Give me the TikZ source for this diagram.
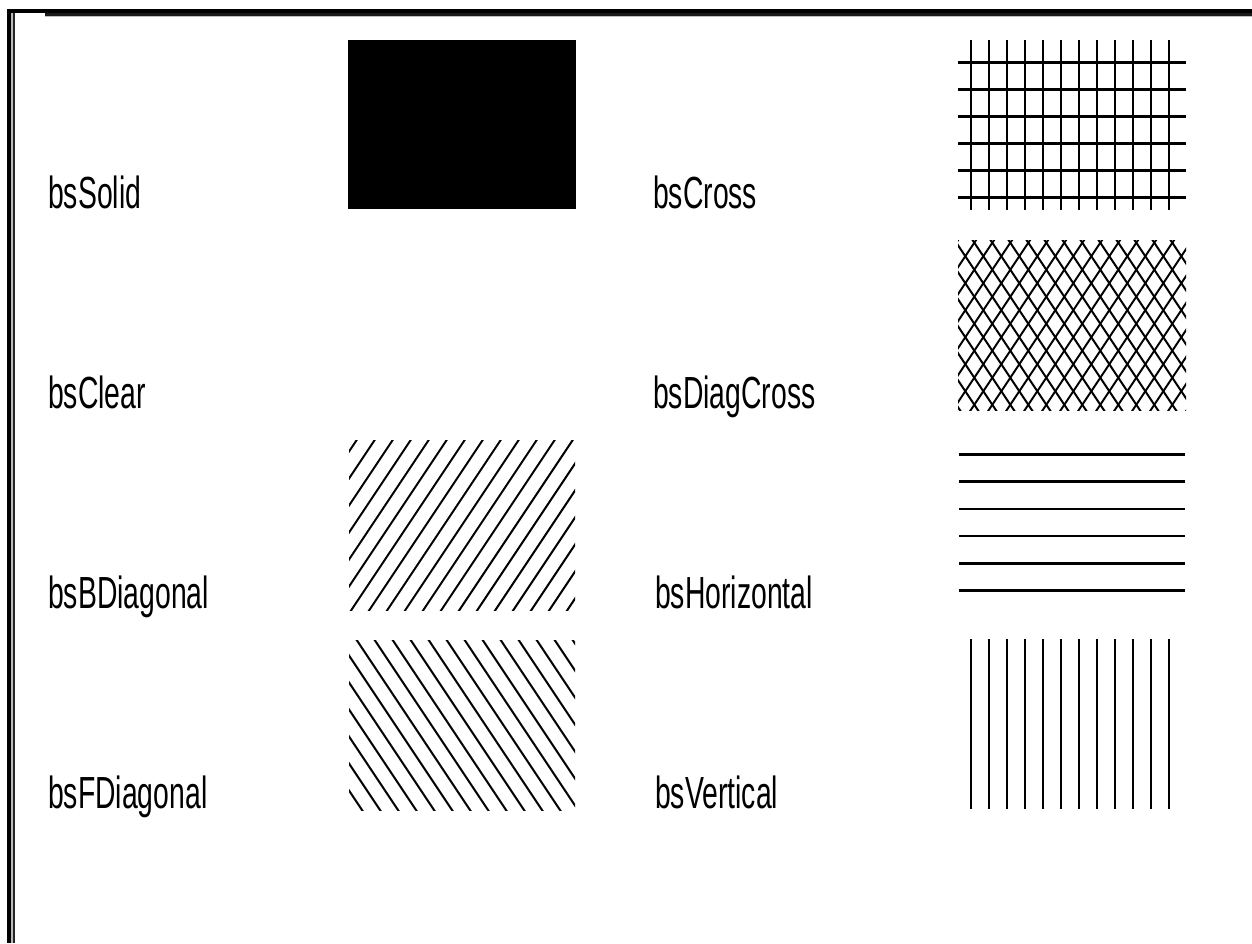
\documentclass[tikz,border=0pt]{standalone}
\usepackage{fontspec}
\newfontfamily\hatchfont[FakeStretch=0.63]{Liberation Sans}
\tikzset{
  brushlabel/.style={anchor=base west, inner sep=0pt, font=\hatchfont\fontsize{45}{50}\selectfont},
  hatchline/.style={line width=2.8pt, line cap=butt},
  diagline/.style={line width=2pt, line cap=butt}
}

\begin{document}
\begin{tikzpicture}[x=1pt, y=-1pt, line join=round]
  \useasboundingbox (0,0) rectangle (1252,943);
  \fill[white] (0,0) rectangle (1252,943);
  % Frame edges.
  \fill[black] (7,9) rectangle (10.7,943);
  \fill[gray!55] (10.7,13) rectangle (12.7,943);
  \fill[black!85] (12.7,13) rectangle (15,943);
  \fill[black] (7,9) rectangle (1252,13);
  \fill[black!90] (45,13) rectangle (1252,15.5);
  \fill[gray!50] (45,15.5) rectangle (1252,16.7);

  % Labels, left column.
  \node[brushlabel] (lblSolid) at (48,208) {bsSolid};
  \node[brushlabel] (lblClear) at (48,408) {bsClear};
  \node[brushlabel] (lblBDiag) at (48,608) {bsBDiagonal};
  \node[brushlabel] (lblFDiag) at (48,808) {bsFDiagonal};
  % Labels, right column.
  \node[brushlabel] (lblCross) at (653,208) {bsCross};
  \node[brushlabel] (lblDiagCross) at (653,408) {bsDiagCross};
  \node[brushlabel] (lblHoriz) at (655,608) {bsHorizontal};
  \node[brushlabel] (lblVert) at (655,808) {bsVertical};

  % Solid brush.
  \fill[black] (348,40) rectangle (576,209);

  % Backward diagonal brush.
  \begin{scope}
    \clip (349,440) rectangle (575,610);
    \foreach \k in {-2,...,21}
      \draw[diagline] ({356.7+18*\k+10},425) -- ({356.7+18*\k-130},635);
  \end{scope}

  % Forward diagonal brush.
  \begin{scope}
    \clip (349,640) rectangle (575,810);
    \foreach \k in {-10,...,13}
      \draw[diagline] ({356.7+18*\k-10},625) -- ({356.7+18*\k+130},835);
  \end{scope}

  % Cross brush.
  \foreach \k in {0,...,11}
    \draw[hatchline] ({971+18*\k},40) -- ({971+18*\k},210);
  \foreach \k in {0,...,5}
    \draw[hatchline] (958,{62.3+27*\k}) -- (1186,{62.3+27*\k});

  % Diagonal cross brush.
  \begin{scope}
    \clip (958,240) rectangle (1186,410);
    \foreach \k in {-8,...,19} {
      \draw[diagline] ({974.3+18*\k+10},227.7) -- ({974.3+18*\k-130},437.7);
      \draw[diagline] ({974.3+18*\k-10},227.7) -- ({974.3+18*\k+130},437.7);
    }
  \end{scope}

  % Horizontal brush.
  \foreach \k in {0,...,5}
    \draw[hatchline] (959,{454.7+27.1*\k}) -- (1185,{454.7+27.1*\k});

  % Vertical brush.
  \foreach \k in {0,...,11}
    \draw[hatchline] ({971+18*\k},639) -- ({971+18*\k},809);
\end{tikzpicture}
\end{document}
